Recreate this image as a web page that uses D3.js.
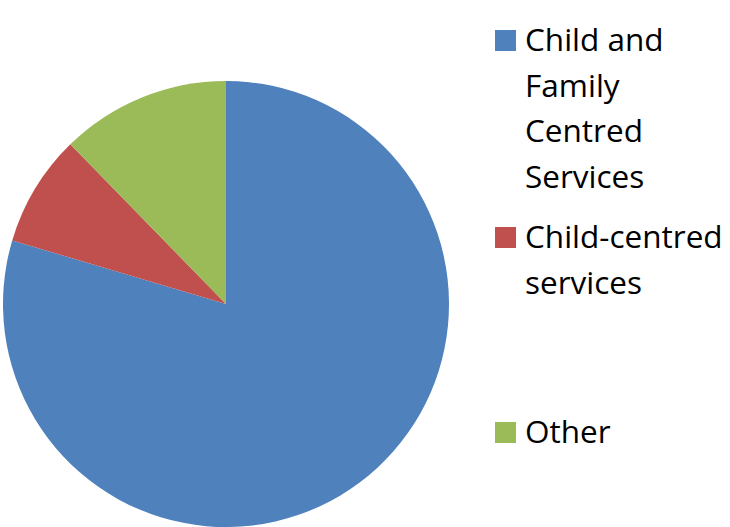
<!DOCTYPE html>
<html>
<head>
<meta charset="utf-8">
<script src="https://cdn.jsdelivr.net/npm/d3@7"></script>
<style>
  body { margin: 0; background: #fff; }
  svg text { font-family: "Open Sans", "Noto Sans", sans-serif; fill: #000; }
</style>
</head>
<body>
<svg id="chart" width="730" height="527"></svg>
<script>
// slice data
const categories = ['Child and Family Centred Services', 'Child-centred services', 'Other'];
const legendLines = [['Child and', 'Family', 'Centred', 'Services'], ['Child-centred', 'services'], ['Other']];
const values = [79.6, 8.1, 12.3];
const colors = ['#4F81BD', '#C0504D', '#9BBB59'];

const svg = d3.select('#chart');
const cx = 226, cy = 304, radius = 223;

const pie = d3.pie().sort(null).value(d => d);
const arc = d3.arc().innerRadius(0).outerRadius(radius);

svg.append('g')
  .attr('transform', 'translate(' + cx + ',' + cy + ')')
  .selectAll('path')
  .data(pie(values))
  .enter().append('path')
  .attr('d', arc)
  .attr('fill', (d, i) => colors[i]);

// legend
const legendTop = [51, 248, 443];
const lineH = 45.5;
const fontSize = 31.5;

const legend = svg.selectAll('g.legend')
  .data(categories)
  .enter().append('g')
  .attr('class', 'legend')
  .attr('transform', (d, i) => 'translate(495,' + legendTop[i] + ')');

legend.append('rect')
  .attr('x', 0)
  .attr('y', -21)
  .attr('width', 21)
  .attr('height', 21)
  .attr('fill', (d, i) => colors[i]);

legend.append('text')
  .attr('x', 30)
  .attr('y', 0)
  .style('font-size', fontSize + 'px')
  .selectAll('tspan')
  .data((d, i) => legendLines[i])
  .enter().append('tspan')
  .attr('x', 30)
  .attr('dy', (d, j) => j == 0 ? 0 : lineH)
  .text(d => d);
</script>
</body>
</html>
